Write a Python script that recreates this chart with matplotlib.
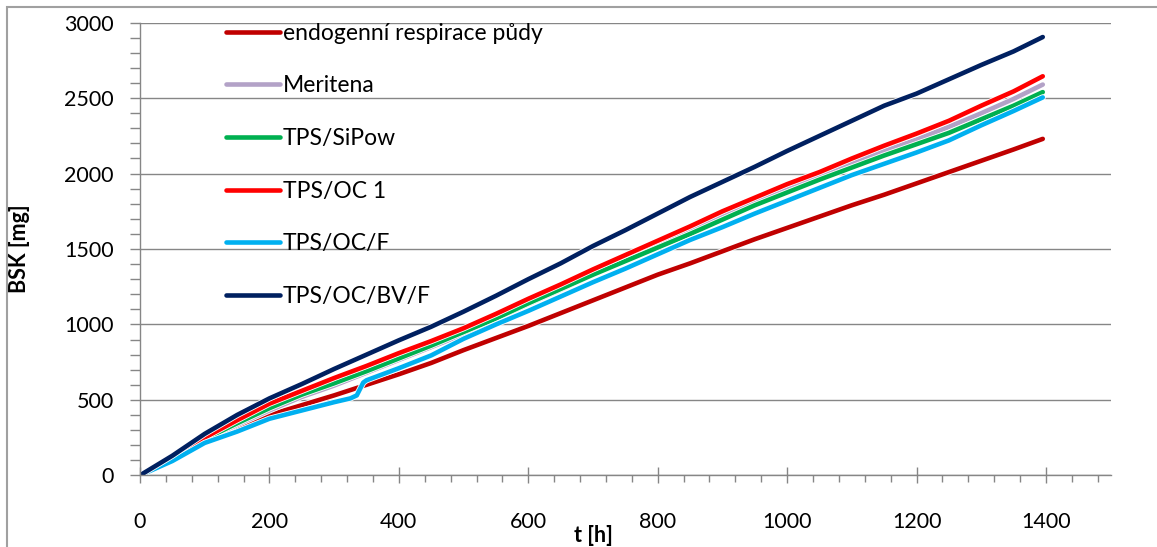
import numpy as np
import matplotlib
matplotlib.use('Agg')
import matplotlib.pyplot as plt
import matplotlib.patheffects as pe
from matplotlib.patches import Rectangle
from matplotlib.ticker import MultipleLocator

plt.rcParams['font.family'] = ['Lato', 'DejaVu Sans']

# time axis [h], values read every 50 h
t = [0, 50, 100, 150, 200, 250, 300, 350, 400, 450, 500, 550, 600, 650, 700,
     750, 800, 850, 900, 950, 1000, 1050, 1100, 1150, 1200, 1250, 1300, 1350, 1395]

endogenni = [0, 110, 225, 320, 400, 465, 530, 600, 670, 745, 830, 910, 990, 1075, 1160,
             1245, 1330, 1405, 1485, 1565, 1640, 1715, 1790, 1860, 1935, 2010, 2085, 2160, 2230]
meritena = [0, 110, 230, 335, 430, 520, 595, 680, 765, 850, 935, 1035, 1135, 1230, 1330,
            1425, 1520, 1615, 1715, 1805, 1895, 1980, 2065, 2150, 2225, 2310, 2400, 2495, 2590]
sipow = [0, 115, 240, 345, 445, 535, 610, 690, 775, 860, 950, 1040, 1140, 1235, 1330,
         1420, 1510, 1600, 1695, 1790, 1875, 1960, 2040, 2120, 2195, 2270, 2360, 2450, 2540]
oc1 = [0, 120, 250, 365, 475, 560, 645, 725, 810, 890, 975, 1070, 1170, 1265, 1365,
       1460, 1555, 1650, 1750, 1840, 1930, 2010, 2100, 2185, 2265, 2350, 2450, 2545, 2645]
bvf = [0, 130, 275, 400, 510, 605, 705, 800, 895, 985, 1085, 1190, 1300, 1405, 1520,
       1625, 1735, 1845, 1945, 2045, 2150, 2250, 2350, 2450, 2530, 2625, 2720, 2810, 2905]

# TPS/OC/F has a step near 340 h
t_ocf = [0, 50, 100, 150, 200, 250, 300, 325, 335, 345, 350, 400, 450, 500, 550, 600, 650,
         700, 750, 800, 850, 900, 950, 1000, 1050, 1100, 1150, 1200, 1250, 1300, 1350, 1395]
ocf = [0, 95, 215, 290, 375, 430, 485, 510, 530, 615, 630, 710, 795, 905, 1000, 1090, 1185,
       1280, 1370, 1465, 1560, 1645, 1735, 1820, 1905, 1990, 2065, 2140, 2220, 2320, 2415, 2505]

series = [
    ('endogenní respirace půdy', t, endogenni, '#C00000'),
    ('Meritena', t, meritena, '#B3A2C7'),
    ('TPS/SiPow', t, sipow, '#00B050'),
    ('TPS/OC 1', t, oc1, '#FF0000'),
    ('TPS/OC/F', t_ocf, ocf, '#00B0F0'),
    ('TPS/OC/BV/F', t, bvf, '#002060'),
]

fig = plt.figure(figsize=(11.57, 5.47), dpi=100)
ax = fig.add_axes([0.121, 0.131, 0.839, 0.8275])

for lab, x, y, col in series:
    ax.plot(x, y, color=col, lw=3.3, label=lab, solid_capstyle='round',
            path_effects=[pe.Stroke(linewidth=4.5, foreground='white'), pe.Normal()])

ax.set_xlim(0, 1500)
ax.set_ylim(0, 3000)
ax.xaxis.set_major_locator(MultipleLocator(200))
ax.xaxis.set_minor_locator(MultipleLocator(40))
ax.yaxis.set_major_locator(MultipleLocator(500))
ax.yaxis.set_minor_locator(MultipleLocator(100))
ax.grid(True, axis='y', which='major', color='#868686', lw=1.0)
ax.set_axisbelow(True)

for s in ['top', 'right']:
    ax.spines[s].set_visible(False)
for s in ['left', 'bottom']:
    ax.spines[s].set_color('#868686')
    ax.spines[s].set_linewidth(1.0)

ax.tick_params(axis='y', which='both', direction='out', length=7, width=1,
               color='#868686', pad=12, labelsize=15.5)
ax.tick_params(axis='x', which='major', direction='inout', length=11, width=1,
               color='#868686', pad=21, labelsize=15.5)
ax.tick_params(axis='x', which='minor', direction='out', length=5, width=1,
               color='#868686')

ax.set_xlabel('t [h]', fontsize=15.5, fontweight='bold')
ax.xaxis.set_label_coords(0.467, -0.11)
ax.set_ylabel('BSK [mg]', fontsize=15.5, fontweight='bold')
ax.yaxis.set_label_coords(-0.113, 0.5)

leg = ax.legend(loc='upper left', bbox_to_anchor=(0.089, 1.0), frameon=False,
                fontsize=16.5, handlelength=2.35, handletextpad=0.12, labelspacing=1.38,
                borderpad=0, borderaxespad=0)
for txt in leg.get_texts():
    txt.set_fontstretch('expanded')

fig.patches.append(Rectangle((7 / 1157, -0.02), 1.05, 1 - 7 / 547 + 0.02,
                             transform=fig.transFigure, fill=False,
                             edgecolor='#A0A0A0', lw=1.5))

plt.savefig('out.png', dpi=100)
